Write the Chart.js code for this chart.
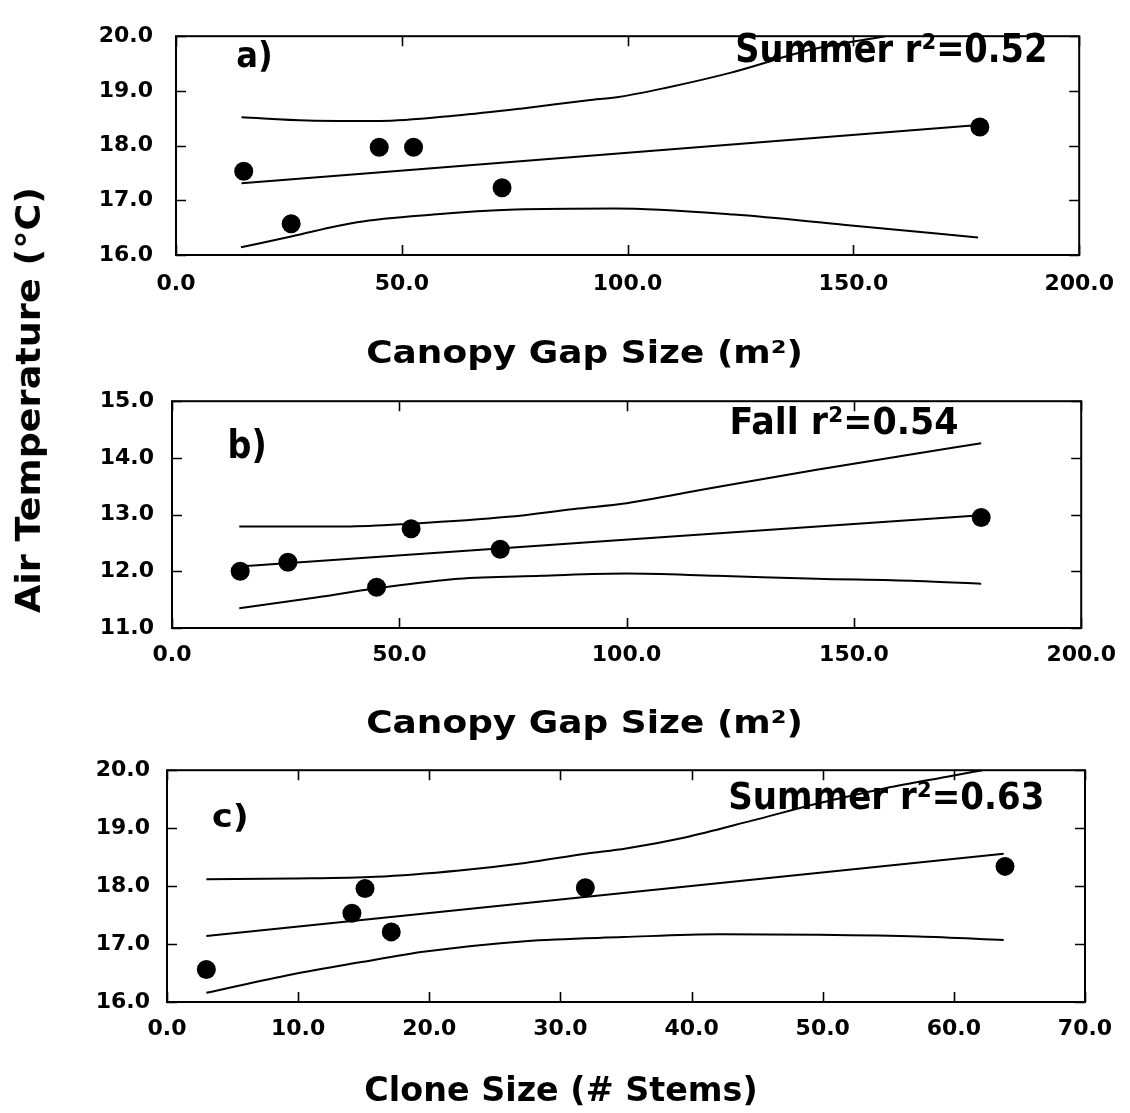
<!DOCTYPE html>
<html>
<head>
<meta charset="utf-8">
<script src="https://cdn.jsdelivr.net/npm/chart.js@4"></script>
<style>
  html, body { margin: 0; padding: 0; background: #fff; }
  #page { position: relative; width: 1130px; height: 1113px; overflow: hidden; background: #fff; }
  canvas { position: absolute; left: 0; }
  .lbl { position: absolute; left: 0; top: 0; font-family: "DejaVu Sans"; font-weight: bold;
         line-height: 1; white-space: pre; transform-origin: 0 0; color: #000; }
</style>
</head>
<body>
<div id="page">
  <canvas id="panelA" width="1130" height="370" style="top:0px"></canvas>
  <canvas id="panelB" width="1130" height="370" style="top:370px"></canvas>
  <canvas id="panelC" width="1130" height="373" style="top:740px"></canvas>
</div>
<script>
// ---- observations ----
const gapSize           = [15, 25.5, 45, 52.6, 72.2, 178];
const summerTempByGap   = [17.53, 16.57, 17.97, 17.97, 17.23, 18.34];
const fallTempByGap     = [12.00, 12.16, 11.72, 12.75, 12.39, 12.95];
const cloneSize         = [3, 14.1, 15.1, 17.1, 31.9, 63.9];
const summerTempByClone = [16.56, 17.53, 17.96, 17.21, 17.97, 18.34];

// ---- regression lines ----
const summerGapFitX = [14.5, 177];
const summerGapFitY = [17.31, 18.37];
const fallGapFitX   = [14.8, 178];
const fallGapFitY   = [12.085, 12.99];
const cloneFitX     = [3, 63.8];
const cloneFitY     = [17.14, 18.56];

// ---- 95% confidence bands ----
const summerGapUpperX = [14.5, 29.2, 45.2, 62.1, 76.7, 91.3, 98, 108.1, 122.7, 141, 157.1];
const summerGapUpperY = [18.52, 18.46, 18.45, 18.55, 18.68, 18.83, 18.89, 19.05, 19.33, 19.76, 20.0];
const summerGapLowerX = [14.4, 25.5, 40.1, 57, 75.2, 97.1, 123.5, 148.3, 177.6];
const summerGapLowerY = [16.14, 16.34, 16.60, 16.74, 16.83, 16.85, 16.74, 16.55, 16.32];

const fallGapUpperX = [14.8, 38.2, 52.8, 73.9, 88.5, 100, 112.6, 127.2, 141.8, 160.1, 178];
const fallGapUpperY = [12.79, 12.79, 12.84, 12.96, 13.10, 13.20, 13.38, 13.59, 13.79, 14.03, 14.26];
const fallGapLowerX = [14.8, 30.1, 45.1, 63, 81.2, 100, 119.9, 141.8, 163.8, 178];
const fallGapLowerY = [11.35, 11.52, 11.70, 11.87, 11.92, 11.96, 11.92, 11.87, 11.83, 11.78];

const cloneUpperX = [3, 9.6, 15.9, 22.3, 27.3, 31.9, 35, 39.5, 44.6, 49.7, 54.8, 59.8, 62.2];
const cloneUpperY = [18.12, 18.13, 18.16, 18.27, 18.40, 18.56, 18.65, 18.84, 19.13, 19.43, 19.69, 19.90, 20.0];
const cloneLowerX = [3, 9.6, 14.6, 19.7, 27.3, 34.8, 42.1, 49.7, 57.3, 63.8];
const cloneLowerY = [16.16, 16.48, 16.68, 16.87, 17.05, 17.12, 17.17, 17.16, 17.13, 17.07];

// ---- axis ticks ----
const gapTicks        = [0, 50, 100, 150, 200];
const cloneTicks      = [0, 10, 20, 30, 40, 50, 60, 70];
const summerTempTicks = [16, 17, 18, 19, 20];
const fallTempTicks   = [11, 12, 13, 14, 15];

const FONT = '"DejaVu Sans"';
const zip = (xs, ys) => xs.map((x, i) => ({ x, y: ys[i] }));

// Box frame with inward tick marks on all four sides
const framePlugin = {
  id: 'frame',
  afterDraw(chart) {
    const { ctx, chartArea: a, scales: { x, y } } = chart;
    ctx.save();
    ctx.strokeStyle = '#000';
    ctx.lineWidth = 2;
    ctx.strokeRect(a.left, a.top, a.right - a.left, a.bottom - a.top);
    ctx.lineWidth = 1.6;
    const L = 10;
    ctx.beginPath();
    x.ticks.forEach(t => {
      const px = Math.round(x.getPixelForValue(t.value)) + 0.5;
      ctx.moveTo(px, a.bottom); ctx.lineTo(px, a.bottom - L);
      ctx.moveTo(px, a.top);    ctx.lineTo(px, a.top + L);
    });
    y.ticks.forEach(t => {
      const py = Math.round(y.getPixelForValue(t.value)) + 0.5;
      ctx.moveTo(a.left, py);  ctx.lineTo(a.left + L, py);
      ctx.moveTo(a.right, py); ctx.lineTo(a.right - L, py);
    });
    ctx.stroke();
    ctx.restore();
  }
};

function lineSet(points) {
  return {
    data: points, showLine: true, pointRadius: 0, borderColor: '#000',
    borderWidth: 2, cubicInterpolationMode: 'monotone', fill: false
  };
}

function makePanel(id, cfg) {
  const canvas = document.getElementById(id);
  const H = canvas.height;
  const area = cfg.area;
  const tickFont = { family: FONT, size: 22, weight: 'bold' };
  return new Chart(canvas, {
    type: 'scatter',
    data: {
      datasets: [
        lineSet(cfg.upper),
        lineSet(cfg.fit),
        lineSet(cfg.lower),
        { data: cfg.points, showLine: false, pointRadius: 9.5, pointHoverRadius: 9.5,
          pointBackgroundColor: '#000', pointBorderColor: '#000', pointBorderWidth: 0 }
      ]
    },
    options: {
      responsive: false, animation: false, devicePixelRatio: 1,
      events: [],
      layout: { autoPadding: false, padding: { left: 0, top: area.top, right: 1130 - area.right, bottom: 0 } },
      plugins: { legend: { display: false }, tooltip: { enabled: false } },
      scales: {
        x: {
          type: 'linear', min: cfg.xTicks[0], max: cfg.xTicks[cfg.xTicks.length - 1],
          grid: { display: false, drawTicks: false }, border: { display: false },
          ticks: { font: tickFont, color: '#000', padding: cfg.xPad, maxRotation: 0, autoSkip: false,
                   callback: v => v.toFixed(1) },
          afterBuildTicks: s => { s.ticks = cfg.xTicks.map(v => ({ value: v })); },
          afterFit: s => { s.height = H - area.bottom; }
        },
        y: {
          type: 'linear', min: cfg.yTicks[0], max: cfg.yTicks[cfg.yTicks.length - 1],
          grid: { display: false, drawTicks: false }, border: { display: false },
          ticks: { font: tickFont, color: '#000', padding: cfg.yPad, autoSkip: false,
                   callback: v => v.toFixed(1) },
          afterBuildTicks: s => { s.ticks = cfg.yTicks.map(v => ({ value: v })); },
          afterFit: s => { s.width = area.left; }
        }
      }
    },
    plugins: [framePlugin]
  });
}

makePanel('panelA', {
  area: { left: 176, top: 20, right: 1089, bottom: 255 },
  xTicks: gapTicks, yTicks: summerTempTicks, xPad: 16, yPad: 23,
  points: zip(gapSize, summerTempByGap),
  fit: zip(summerGapFitX, summerGapFitY),
  upper: zip(summerGapUpperX, summerGapUpperY),
  lower: zip(summerGapLowerX, summerGapLowerY)
});

makePanel('panelB', {
  area: { left: 172, top: 24, right: 1086, bottom: 258 },
  xTicks: gapTicks, yTicks: fallTempTicks, xPad: 14, yPad: 18,
  points: zip(gapSize, fallTempByGap),
  fit: zip(fallGapFitX, fallGapFitY),
  upper: zip(fallGapUpperX, fallGapUpperY),
  lower: zip(fallGapLowerX, fallGapLowerY)
});

makePanel('panelC', {
  area: { left: 167, top: 28, right: 1085, bottom: 262 },
  xTicks: cloneTicks, yTicks: summerTempTicks, xPad: 14, yPad: 17,
  points: zip(cloneSize, summerTempByClone),
  fit: zip(cloneFitX, cloneFitY),
  upper: zip(cloneUpperX, cloneUpperY),
  lower: zip(cloneLowerX, cloneLowerY)
});

// ---- titles and panel annotations as page text ----
const page = document.getElementById('page');
const measureCtx = document.createElement('canvas').getContext('2d');

// Place text so that its inked extent fills the box [x0, y0, x1, y1]
function placeText(txt, box, vertical) {
  const size = 40;
  measureCtx.font = `bold ${size}px ${FONT}`;
  const m = measureCtx.measureText(txt);
  const abL = m.actualBoundingBoxLeft, abR = m.actualBoundingBoxRight;
  const asc = m.actualBoundingBoxAscent, desc = m.actualBoundingBoxDescent;
  const inkW = abL + abR, inkH = asc + desc;
  const el = document.createElement('div');
  el.className = 'lbl';
  el.style.fontSize = size + 'px';
  el.textContent = txt;
  const probe = document.createElement('span');
  probe.style.cssText = 'display:inline-block;width:0;height:0;vertical-align:baseline';
  el.appendChild(probe);
  page.appendChild(el);
  const base = probe.offsetTop;
  const [x0, y0, x1, y1] = box;
  if (!vertical) {
    const sx = (x1 - x0) / inkW, sy = (y1 - y0) / inkH;
    const tx = x0 + sx * abL, ty = y0 - sy * (base - asc);
    el.style.transform = `translate(${tx}px,${ty}px) scale(${sx},${sy})`;
  } else {
    const sx = (y1 - y0) / inkW, sy = (x1 - x0) / inkH;
    const ty = y1 - sx * abL, tx = x0 - sy * (base - asc);
    el.style.transform = `translate(${tx}px,${ty}px) rotate(-90deg) scale(${sx},${sy})`;
  }
}

placeText('Air Temperature (°C)', [14, 190, 48, 613], true);

placeText('a)', [237, 40, 270, 72]);
placeText('Summer r²=0.52', [737, 32, 1045, 63]);
placeText('Canopy Gap Size (m²)', [368, 339, 800, 370]);

placeText('b)', [230, 428, 264, 464]);
placeText('Fall r²=0.54', [732, 405, 957, 435]);
placeText('Canopy Gap Size (m²)', [368, 709, 800, 740]);

placeText('c)', [213, 803, 246, 832]);
placeText('Summer r²=0.63', [730, 780, 1042, 810]);
placeText('Clone Size (# Stems)', [366, 1075, 755, 1106]);
</script>
</body>
</html>
